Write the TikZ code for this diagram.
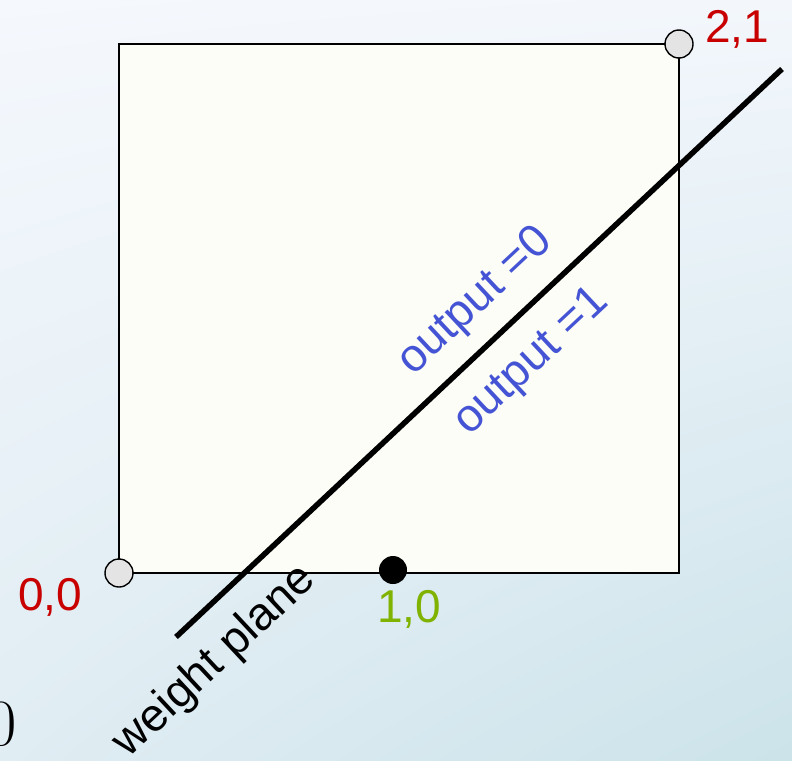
\documentclass[tikz,border=0pt]{standalone}
\usepackage{fontspec}
\usetikzlibrary{shadings}
\setmainfont{Liberation Sans}
\newfontfamily\serifzero{Latin Modern Roman}
\definecolor{bgUL}{RGB}{245,248,253}
\definecolor{bgUR}{RGB}{243,247,252}
\definecolor{bgLL}{RGB}{224,237,243}
\definecolor{bgLR}{RGB}{204,227,234}
\definecolor{boxfill}{RGB}{252,253,246}
\definecolor{ptgray}{RGB}{228,228,228}
\definecolor{lblred}{RGB}{200,0,0}
\definecolor{lblgreen}{RGB}{128,178,0}
\definecolor{lblblue}{RGB}{68,84,212}
\tikzset{
  bigtext/.style={font=\fontsize{46}{52}\selectfont, inner sep=0pt},
  opentpt/.style={circle, draw=black, line width=1.4pt, fill=ptgray, minimum size=28pt, inner sep=0pt},
  solidpt/.style={circle, fill=black, minimum size=28pt, inner sep=0pt},
  planeline/.style={line width=5.5pt},
  sideline/.style={line width=1.5pt}
}
\begin{document}
\begin{tikzpicture}[x=1pt,y=-1pt]
\useasboundingbox (0,0) rectangle (792,760);
\clip (0,0) rectangle (792,760);
\shade[upper left=bgUL, upper right=bgUR, lower left=bgLL, lower right=bgLR] (0,0) rectangle (792,760);
% box
\coordinate (c00) at (119,573);
\coordinate (c21) at (679,44);
\filldraw[sideline, fill=boxfill] (c00) rectangle (c21);
% weight plane line
\coordinate (la) at (176,637);
\coordinate (lb) at (782,69);
\draw[planeline] (la) -- (lb);
% points
\node[opentpt] (p00) at (c00) {};
\node[opentpt] (p21) at (c21) {};
\node[solidpt] (p10) at (393,570) {};
% labels
\node[bigtext, text=lblred, anchor=base] (t00) at (50,610) {0,0};
\node[bigtext, text=lblred, anchor=base] (t21) at (737,43) {2,1};
\node[bigtext, text=lblgreen, anchor=base] (t10) at (409,622) {1,0};
\node[bigtext, text=lblblue, rotate=43.1] (o0) at (476,302) {output =0};
\node[bigtext, text=lblblue, rotate=43.1] (o1) at (532,362) {output =1};
\node[bigtext, text=black, rotate=43.1] (wp) at (215,662) {weight plane};
\node[font=\serifzero\fontsize{66}{70}\selectfont, inner sep=0pt, anchor=base east] (z) at (17,745) {0};
\end{tikzpicture}
\end{document}
